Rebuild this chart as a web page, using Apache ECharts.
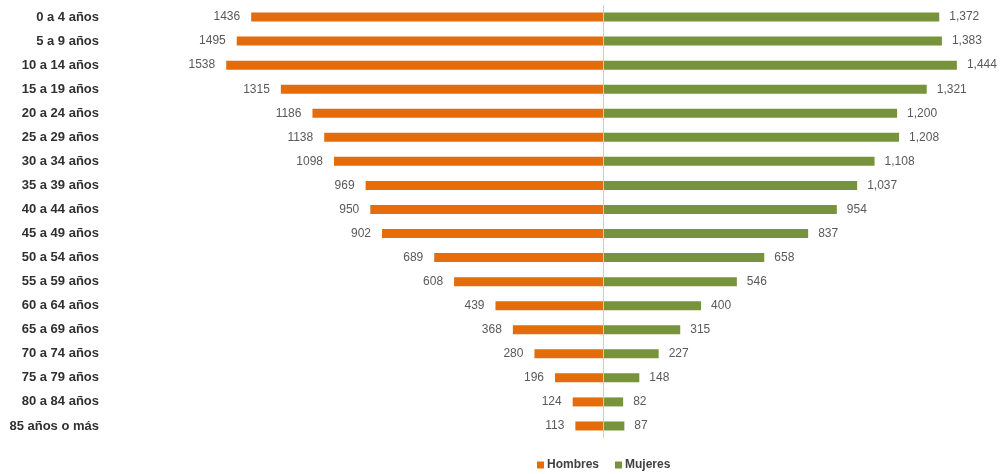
<!DOCTYPE html>
<html>
<head>
<meta charset="utf-8">
<script src="https://cdn.jsdelivr.net/npm/echarts@6/dist/echarts.min.js"></script>
<style>
html,body{margin:0;padding:0;background:#fff;}
#chart{width:1005px;height:474px;}
</style>
</head>
<body>
<div id="chart"></div>
<script>
var categories = ["0 a 4 años","5 a 9 años","10 a 14 años","15 a 19 años","20 a 24 años","25 a 29 años","30 a 34 años","35 a 39 años","40 a 44 años","45 a 49 años","50 a 54 años","55 a 59 años","60 a 64 años","65 a 69 años","70 a 74 años","75 a 79 años","80 a 84 años","85 años o más"];
var hombres = [1436,1495,1538,1315,1186,1138,1098,969,950,902,689,608,439,368,280,196,124,113];
var mujeres = [1372,1383,1444,1321,1200,1208,1108,1037,954,837,658,546,400,315,227,148,82,87];

var chart = echarts.init(document.getElementById('chart'));
var font = 'Liberation Sans';
chart.setOption({
  animation: false,
  textStyle: {fontFamily: font},
  grid: {left: 113, top: 5, width: 887, height: 433, containLabel: false},
  legend: {
    data: ['Hombres','Mujeres'],
    left: 532, top: 454,
    itemWidth: 7, itemHeight: 7, itemGap: 16,
    icon: 'rect',
    textStyle: {fontFamily: font, fontSize: 12, fontWeight: 'bold', color: '#404040', padding: [0,0,0,-2]}
  },
  xAxis: {
    type: 'value', min: -2000, max: 1620,
    show: false
  },
  yAxis: {
    type: 'category', data: categories, inverse: true,
    axisLine: {show: false, onZero: false},
    axisTick: {show: false},
    axisLabel: {fontFamily: font, fontSize: 13, fontWeight: 'bold', color: '#303030', margin: 14}
  },
  series: [
    {
      name: 'Hombres', type: 'bar', stack: 'total', barWidth: 9,
      data: hombres.map(function(v){return -v;}),
      itemStyle: {color: '#E46C0A'},
      label: {show: true, position: 'left', distance: 11, fontFamily: font, fontSize: 12, color: '#595959',
        formatter: function(p){return String(Math.abs(p.value));}},
      markLine: {
        silent: true, symbol: 'none',
        label: {show: false},
        lineStyle: {color: '#B4D3EC', type: 'solid', width: 1},
        data: [{xAxis: 0}]
      }
    },
    {
      name: 'Mujeres', type: 'bar', stack: 'total', barWidth: 9,
      data: mujeres,
      itemStyle: {color: '#77933C'},
      label: {show: true, position: 'right', distance: 10, fontFamily: font, fontSize: 12, color: '#595959',
        formatter: function(p){return p.value.toLocaleString('en-US');}}
    }
  ]
});
</script>
</body>
</html>
